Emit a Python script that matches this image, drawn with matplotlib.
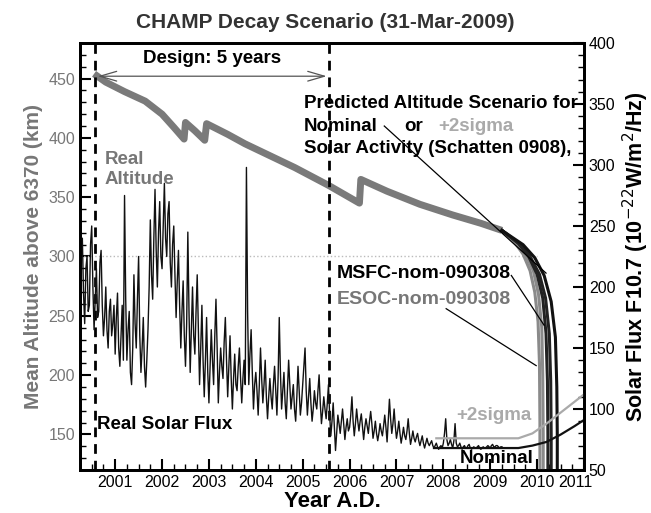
import numpy as np
import matplotlib.pyplot as plt
from matplotlib.ticker import MultipleLocator
from matplotlib.transforms import ScaledTranslation

plt.rcParams['font.family'] = ['Liberation Sans', 'DejaVu Sans']

# real (observed) mean altitude, km
alt_years = [2000.55, 2000.8, 2001.2, 2001.64, 2002.0, 2002.25, 2002.47, 2002.5,
             2002.7, 2002.91, 2002.95, 2003.4, 2003.77, 2004.3, 2004.83, 2005.55,
             2006.21, 2006.24, 2006.8, 2007.5, 2008.2, 2008.8, 2009.25]
alt_km = [454, 447, 439, 431, 420, 409, 399, 413,
          406, 398, 412, 403, 395, 385, 375, 360,
          345, 365, 355, 344, 335, 328, 322]

# predicted decay curves (two grey, three black)
pred_years = {
    'g1': [2009.25, 2009.5, 2009.7, 2009.85, 2009.95, 2010.02, 2010.05, 2010.06, 2010.06],
    'g2': [2009.25, 2009.55, 2009.75, 2009.92, 2010.03, 2010.1, 2010.12, 2010.13, 2010.13],
    'b1': [2009.25, 2009.6, 2009.82, 2010.0, 2010.12, 2010.19, 2010.22, 2010.23, 2010.23],
    'b2': [2009.25, 2009.62, 2009.85, 2010.05, 2010.18, 2010.26, 2010.29, 2010.3, 2010.3],
    'b3': [2009.25, 2009.7, 2009.95, 2010.15, 2010.3, 2010.39, 2010.42, 2010.43, 2010.43],
}
pred_alt = {
    'g1': [322, 313, 302, 288, 270, 245, 210, 160, 120],
    'g2': [322, 312, 302, 288, 268, 240, 200, 150, 120],
    'b1': [322, 311, 300, 285, 265, 235, 195, 150, 120],
    'b2': [322, 311, 300, 285, 265, 235, 195, 150, 120],
    'b3': [322, 310, 299, 284, 262, 232, 190, 150, 120],
}
pred_colors = {'g1': '#8a8a8a', 'g2': '#8a8a8a', 'b1': '#222222', 'b2': '#222222', 'b3': '#111111'}

# observed F10.7 solar flux, sampled every 0.025 yr from 2000.25
flux_start = 2000.25
flux_step = 0.025
flux = [
    # 2000.25 - 2000.975
    205, 230, 240, 195, 170, 215, 225, 180, 185, 235, 250, 200, 165, 190, 215,
    175, 180, 220, 230, 185, 160, 175, 200, 165, 150, 180, 190, 160, 170, 185,
    # 2001
    145, 175, 195, 150, 135, 160, 185, 140, 275, 190, 140, 165, 180, 130, 120, 150, 210, 170, 150, 190,
    225, 160, 130, 150, 175, 135, 118, 140, 165, 200, 255, 210, 190, 240, 280, 230, 200, 245, 270, 225,
    # 2002
    215, 250, 285, 240, 225, 260, 270, 220, 200, 235, 250, 210, 175, 205, 230, 185, 150, 180, 205, 160,
    135, 170, 245, 180, 130, 165, 200, 160, 145, 180, 210, 165, 120, 150, 185, 140, 110, 140, 175, 130,
    # 2003
    105, 135, 165, 140, 120, 160, 190, 150, 105, 130, 150, 135, 125, 155, 175, 140, 110, 135, 160, 125,
    100, 125, 145, 120, 115, 135, 150, 125, 105, 125, 140, 120, 298, 180, 120, 145, 165, 130, 100, 120,
    # 2004
    130, 115, 95, 120, 150, 125, 105, 120, 140, 110, 92, 110, 125, 110, 100, 120, 135, 115, 95, 125,
    175, 130, 100, 115, 130, 105, 92, 115, 140, 120, 100, 110, 120, 100, 90, 110, 135, 115, 95, 105,
    # 2005
    120, 135, 150, 115, 95, 110, 125, 105, 90, 100, 115, 105, 100, 115, 128, 105, 88, 98, 110, 100,
    92, 105, 120, 95, 78, 90, 105, 85, 66, 80, 95, 88, 80, 90, 100, 88, 75, 85, 92, 82,
    # 2006
    85, 95, 110, 90, 78, 88, 100, 90, 82, 90, 96, 85, 75, 85, 92, 86, 80, 90, 98, 88,
    76, 82, 90, 80, 74, 80, 88, 82, 78, 86, 95, 85, 73, 90, 108, 92, 80, 88, 100, 86,
    # 2007
    76, 82, 90, 80, 72, 78, 85, 78, 75, 82, 92, 80, 71, 76, 82, 76, 73, 77, 80, 74,
    70, 74, 78, 72, 68, 72, 76, 72, 70, 72, 74, 70, 68, 70, 72, 69, 67, 69, 70, 68,
    # 2008
    72, 80, 92, 75, 70, 72, 75, 71, 68, 74, 88, 72, 69, 70, 72, 69, 67, 69, 70, 68,
    68, 70, 71, 68, 67, 68, 69, 68, 68, 69, 70, 68, 67, 68, 69, 68, 68, 69, 70, 69,
    # 2009.0 - 2009.25
    68, 70, 71, 69, 69, 70, 70, 69, 68, 69, 69,
]

# predicted solar flux
nom_years = [2007.8, 2008.0, 2008.5, 2009.0, 2009.6, 2009.9, 2010.2, 2010.5, 2010.8, 2011.0]
nom_flux = [68, 68, 68, 68, 68, 70, 73, 79, 86, 91]
sig_years = [2007.85, 2008.5, 2009.0, 2009.6, 2009.9, 2010.2, 2010.5, 2010.8, 2011.0]
sig_flux = [76, 76, 76, 76, 80, 88, 97, 106, 112]

mission_start = 2000.57
design_end = 2005.57

fig = plt.figure(figsize=(6.51, 5.13), dpi=100)
ax = fig.add_axes([80 / 651, 1 - 470 / 513, 504 / 651, 427 / 513])
ax2 = ax.twinx()

ax.set_xlim(2000.25, 2011.0)
ax.set_ylim(120, 480)
ax2.set_ylim(50, 400)

# solar flux
flux_years = flux_start + flux_step * np.arange(len(flux))
ax2.plot(flux_years, flux, color='#111111', lw=1.0)
ax2.plot(sig_years, sig_flux, color='#aaaaaa', lw=1.6)
ax2.plot(nom_years, nom_flux, color='#111111', lw=1.6)

# altitude
ax.axhline(300, color='#bbbbbb', ls=':', lw=1, xmax=(2010.0 - 2000.25) / 10.75)
ax.plot(alt_years, alt_km, color='#7a7a7a', lw=5, solid_capstyle='butt', zorder=3)
for k in pred_years:
    ax.plot(pred_years[k], pred_alt[k], color=pred_colors[k], lw=2.2, zorder=3)

for xv in (mission_start, design_end):
    ax.axvline(xv, color='black', lw=2, ls=(0, (3.5, 2.5)), zorder=4)

ax.annotate('', xy=(mission_start, 452), xytext=(design_end, 452),
            arrowprops=dict(arrowstyle='<->,head_length=1.2,head_width=0.35', color='#555555', lw=0.9))
ax.text(2003.06, 467, 'Design: 5 years', ha='center', va='center', fontsize=13.5, fontweight='bold')

ax.text(2000.77, 382, 'Real', color='#777777', fontsize=13.5, fontweight='bold', va='center')
ax.text(2000.77, 365, 'Altitude', color='#777777', fontsize=13.5, fontweight='bold', va='center')

fs = 13.5
ax.text(2005.02, 429, 'Predicted Altitude Scenario for', fontsize=fs, fontweight='bold', va='center')
ax.text(2005.02, 410, 'Nominal', fontsize=fs, fontweight='bold', va='center')
ax.text(2007.17, 410, 'or', fontsize=fs, fontweight='bold', va='center')
ax.text(2007.89, 410, '+2sigma', fontsize=fs, fontweight='bold', va='center', color='#aaaaaa')
ax.text(2005.02, 391, 'Solar Activity (Schatten 0908),', fontsize=fs, fontweight='bold', va='center')

ax.text(2005.72, 286, 'MSFC-nom-090308', fontsize=14, fontweight='bold', va='center')
ax.text(2005.72, 264, 'ESOC-nom-090308', fontsize=14, fontweight='bold', va='center', color='#777777')
ax.text(2008.28, 166, '+2sigma', fontsize=fs, fontweight='bold', va='center', color='#aaaaaa')
ax.text(2000.62, 158, 'Real Solar Flux', fontsize=fs, fontweight='bold', va='center')
ax.text(2008.34, 130, 'Nominal', fontsize=fs, fontweight='bold', va='center')

# leader lines
ax.plot([2006.74, 2010.19], [410, 286], color='black', lw=0.9, zorder=5)
ax.plot([2009.45, 2010.15], [284, 242], color='black', lw=0.9, zorder=5)
ax.plot([2008.06, 2009.98], [256, 208], color='black', lw=0.9, zorder=5)

# axes styling
ax.set_xticks(range(2001, 2012))
ax.xaxis.set_minor_locator(MultipleLocator(0.25))
ax.yaxis.set_minor_locator(MultipleLocator(10))
ax.set_yticks([150, 200, 250, 300, 350, 400, 450])
ax2.set_yticks([50, 100, 150, 200, 250, 300, 350, 400])
ax2.yaxis.set_minor_locator(MultipleLocator(10))

ax.tick_params(axis='both', which='major', direction='in', length=8, width=1.5, labelsize=11.5)
ax.tick_params(axis='both', which='minor', direction='in', length=4, width=1)
ax.tick_params(axis='y', labelcolor='#777777')
ax2.tick_params(axis='y', which='major', direction='in', length=8, width=1.5, labelsize=11.5)
ax2.tick_params(axis='y', which='minor', direction='in', length=4, width=1)
for a in (ax, ax2):
    for s in a.spines.values():
        s.set_linewidth(2)

# pull the last year label left so it clears the right-axis "50"
last = ax.get_xticklabels()[-1]
last.set_transform(last.get_transform() + ScaledTranslation(-6 / 72, 0, fig.dpi_scale_trans))

ax.set_xlabel('Year A.D.', fontsize=16, fontweight='bold', labelpad=1)
ax.set_ylabel('Mean Altitude above 6370 (km)', fontsize=15, fontweight='bold', color='#777777',
              labelpad=4)
ax2.set_ylabel('Solar Flux F10.7 (10$^{-22}$W/m$^2$/Hz)', fontsize=15.5, fontweight='bold', labelpad=4)
fig.suptitle('CHAMP Decay Scenario (31-Mar-2009)', fontsize=15, fontweight='bold',
             color='#333333', y=0.975)

fig.savefig('out.png', dpi=100)
